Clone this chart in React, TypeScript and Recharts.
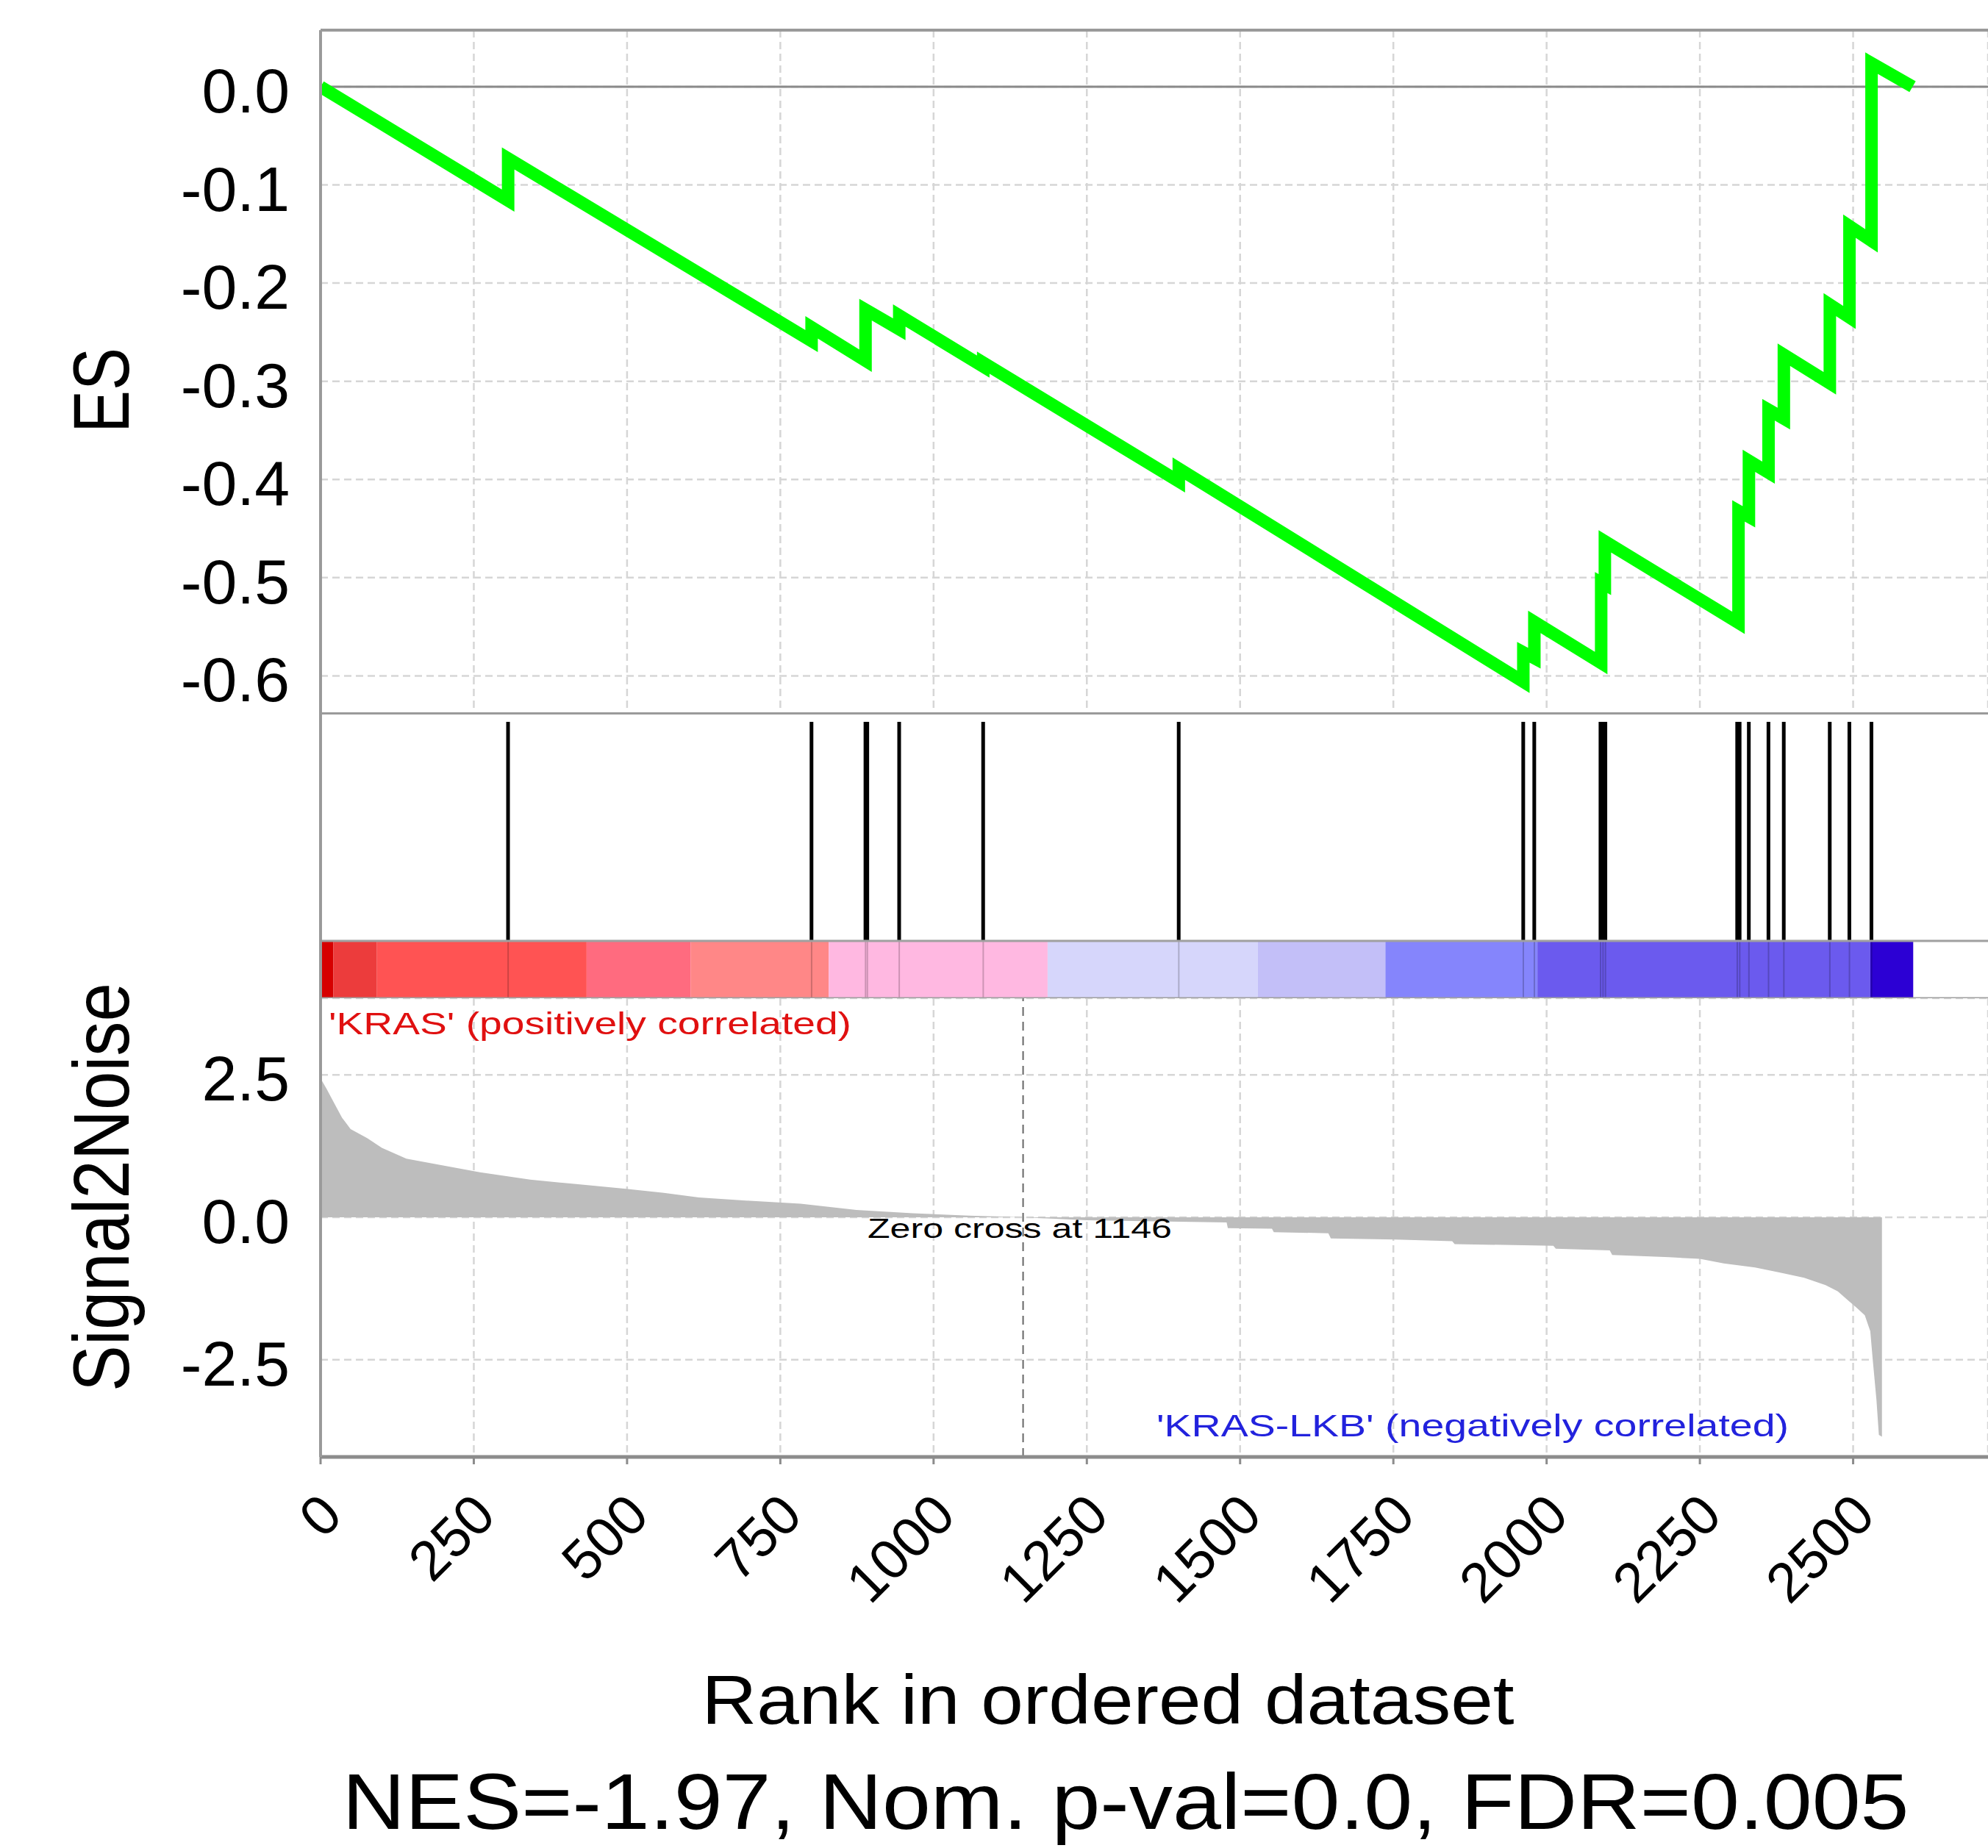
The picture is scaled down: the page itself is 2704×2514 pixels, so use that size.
import React from "react";
import {
  ComposedChart,
  LineChart,
  Line,
  AreaChart,
  Area,
  Bar,
  XAxis,
  YAxis,
  CartesianGrid,
  ReferenceLine,
  ReferenceArea,
} from "recharts";

const FONT = '"Liberation Sans", Arial, Helvetica, sans-serif';

// shared rank axis
const rankMax = 2720;
const rankTicks = [0, 250, 500, 750, 1000, 1250, 1500, 1750, 2000, 2250, 2500];

// running enrichment score (vertical jumps = hits)
const esRanks = [
  0, 306, 306, 801, 801, 889, 889, 944, 944, 1081, 1081, 1400, 1400, 1962, 1962, 1980, 1980,
  2089, 2089, 2095, 2095, 2313, 2313, 2330, 2330, 2362, 2362, 2387, 2387, 2462, 2462, 2494,
  2494, 2530, 2530, 2597,
];
const esValues = [
  0.0, -0.116, -0.073, -0.259, -0.245, -0.279, -0.227, -0.247, -0.233, -0.285, -0.281, -0.402,
  -0.389, -0.606, -0.576, -0.582, -0.545, -0.587, -0.505, -0.507, -0.463, -0.546, -0.432,
  -0.438, -0.381, -0.393, -0.329, -0.338, -0.273, -0.302, -0.222, -0.235, -0.142, -0.157,
  0.024, 0.0,
];
const esTicks = [0, -0.1, -0.2, -0.3, -0.4, -0.5, -0.6];
const esDomain = [-0.6386, 0.0576];

// gene set hits
const hitRanks = [
  306, 801, 889, 892, 944, 1081, 1400, 1962, 1980, 2088, 2092, 2096, 2311, 2315, 2330, 2362,
  2387, 2462, 2494, 2530,
];

// heat band under the hits
const bandStarts = [0, 21, 92, 434, 604, 829, 1186, 1529, 1737, 1985, 2528];
const bandEnds = [21, 92, 434, 604, 829, 1186, 1529, 1737, 1985, 2528, 2598];
const bandColors = [
  "#d60000", "#ec3c3c", "#ff5353", "#ff6b7f", "#ff8787", "#ffb8e1",
  "#d6d6fb", "#c3bff8", "#8585fc", "#6b5aee", "#2c00d4",
];
const bandTop = 0.2016;
const hitTop = 0.9716;

// ranked list metric
const s2nRanks = [
  0, 10, 21, 35, 49, 76, 100, 140, 195, 260, 342, 420, 498, 560, 617, 700, 783, 874, 966, 1058,
  1146, 1250, 1478, 1480, 1552, 1555, 1644, 1648, 1754, 1846, 1850, 2011, 2015, 2103, 2107,
  2200, 2250, 2289, 2340, 2381, 2420, 2455, 2475, 2491, 2505, 2519, 2528, 2532, 2538, 2542,
  2547,
];
const s2nValues = [
  2.44, 2.25, 2.03, 1.75, 1.55, 1.39, 1.22, 1.03, 0.92, 0.79, 0.66, 0.58, 0.5, 0.43, 0.35,
  0.29, 0.24, 0.13, 0.07, 0.03, 0.0, -0.05, -0.09, -0.19, -0.2, -0.26, -0.28, -0.37, -0.39,
  -0.42, -0.47, -0.5, -0.55, -0.58, -0.66, -0.7, -0.73, -0.81, -0.88, -0.97, -1.06, -1.19,
  -1.3, -1.45, -1.58, -1.72, -2.0, -2.5, -3.2, -3.82, -3.85,
];
const s2nTicks = [2.5, 0, -2.5];
const s2nDomain = [-4.206, 3.845];
const zeroCross = 1146;

const esData = esRanks.map((rank, i) => ({ rank, es: esValues[i] }));
const s2nData = s2nRanks.map((rank, i) => ({ rank, s2n: s2nValues[i] }));
const hitData = hitRanks.map((rank) => ({ rank, hit: [bandTop, hitTop] }));

const GRID = "#d6d6d6";
const FRAME = "#9a9a9a";

function YTick(props: any) {
  const { x, y, payload } = props;
  return (
    <text x={x} y={y} dy={35} textAnchor="end" fontSize={86} fontFamily={FONT} fill="#000">
      {Number(payload.value).toFixed(1)}
    </text>
  );
}

function XTick(props: any) {
  const { x, y, payload } = props;
  return (
    <text
      transform={`translate(${x + 33},${y + 73}) rotate(-45)`}
      textAnchor="end"
      fontSize={76}
      fontFamily={FONT}
      fill="#000"
    >
      {payload.value}
    </text>
  );
}

// fixed-width hit stroke centred on the bar's rank position
function HitBar(props: any) {
  const { x, y, width, height } = props;
  return <rect x={x + width / 2 - 2.5} y={y} width={5} height={height} fill="#000" />;
}

export default function App() {
  return (
    <div
      style={{
        position: "absolute",
        left: 0,
        top: 0,
        width: 2704,
        height: 2514,
        overflow: "hidden",
        background: "#fff",
        fontFamily: FONT,
      }}
    >
      {/* ES PANEL */}
      <div style={{ position: "absolute", left: 0, top: 0 }}>
        <LineChart width={2704} height={972} data={esData} margin={{ top: 41, right: 0, bottom: 1, left: 0 }}>
          <CartesianGrid stroke={GRID} strokeWidth={2.5} strokeDasharray="10 6" />
          <XAxis dataKey="rank" type="number" domain={[0, rankMax]} ticks={rankTicks} hide allowDataOverflow />
          <YAxis
            type="number"
            domain={esDomain}
            ticks={esTicks}
            interval={0}
            width={436}
            allowDataOverflow
            axisLine={{ stroke: FRAME, strokeWidth: 4 }}
            tickLine={false}
            tickSize={0}
            tickMargin={42}
            tick={(p: any) => <YTick {...p} />}
          />
          <ReferenceLine y={0} stroke="#8a8a8a" strokeWidth={3} />
          <ReferenceLine y={esDomain[1]} stroke={FRAME} strokeWidth={4} />
          <ReferenceLine y={esDomain[0]} stroke={FRAME} strokeWidth={4} />
          <Line type="linear" dataKey="es" stroke="#00ff00" strokeWidth={17} dot={false} isAnimationActive={false} />
        </LineChart>
      </div>

      {/* HITS + HEAT BAND */}
      <div style={{ position: "absolute", left: 0, top: 971 }}>
        <ComposedChart
          width={2704}
          height={387}
          data={hitData}
          margin={{ top: 0, right: 0, bottom: 0, left: 436 }}
          barGap={0}
          barCategoryGap={0}
        >
          <XAxis dataKey="rank" type="number" domain={[0, rankMax]} hide allowDataOverflow />
          <YAxis type="number" domain={[0, 1]} hide allowDataOverflow />
          {bandStarts.map((s, i) => (
            <ReferenceArea
              key={"b" + i}
              x1={s}
              x2={bandEnds[i]}
              y1={0}
              y2={bandTop}
              fill={bandColors[i]}
              fillOpacity={1}
              stroke="none"
              ifOverflow="visible"
            />
          ))}
          {hitRanks.map((r, i) => (
            <ReferenceLine
              key={"f" + i}
              segment={[{ x: r, y: 0 }, { x: r, y: bandTop }]}
              stroke="rgba(0,0,0,0.2)"
              strokeWidth={2}
              ifOverflow="visible"
            />
          ))}
          <Bar dataKey="hit" fill="#000" barSize={4} shape={(p: any) => <HitBar {...p} />} isAnimationActive={false} />
          <ReferenceLine y={bandTop} stroke="#a0a0a0" strokeWidth={3} ifOverflow="visible" />
          <ReferenceLine y={0} stroke="#a0a0a0" strokeWidth={3} ifOverflow="visible" />
          <ReferenceLine x={0} stroke={FRAME} strokeWidth={4} ifOverflow="visible" />
        </ComposedChart>
      </div>

      {/* SIGNAL2NOISE PANEL */}
      <div style={{ position: "absolute", left: 0, top: 1358 }}>
        <AreaChart width={2704} height={1156} data={s2nData} margin={{ top: 0, right: 0, bottom: 0, left: 0 }}>
          <CartesianGrid stroke={GRID} strokeWidth={2.5} strokeDasharray="10 6" />
          <XAxis
            dataKey="rank"
            type="number"
            domain={[0, rankMax]}
            ticks={rankTicks}
            interval={0}
            height={532}
            allowDataOverflow
            axisLine={{ stroke: "#8c8c8c", strokeWidth: 5 }}
            tickLine={{ stroke: "#8c8c8c", strokeWidth: 3 }}
            tickSize={10}
            tickMargin={0}
            tick={(p: any) => <XTick {...p} />}
          />
          <YAxis
            type="number"
            domain={s2nDomain}
            ticks={s2nTicks}
            interval={0}
            width={436}
            allowDataOverflow
            axisLine={{ stroke: FRAME, strokeWidth: 4 }}
            tickLine={false}
            tickSize={0}
            tickMargin={42}
            tick={(p: any) => <YTick {...p} />}
          />
          <Area
            type="linear"
            dataKey="s2n"
            stroke="none"
            fill="#bdbdbd"
            fillOpacity={1}
            baseValue={0}
            isAnimationActive={false}
          />
          <ReferenceLine x={zeroCross} stroke="#666" strokeWidth={2} strokeDasharray="12 8" />
        </AreaChart>
      </div>

      {/* TITLES AND NOTES */}
      <svg
        width={2704}
        height={2514}
        style={{ position: "absolute", left: 0, top: 0, pointerEvents: "none" }}
        fontFamily={FONT}
      >
        <text x={175} y={531} transform="rotate(-90 175 531)" textAnchor="middle" fontSize={107} textLength={116} lengthAdjust="spacingAndGlyphs">
          ES
        </text>
        <text x={175} y={1615} transform="rotate(-90 175 1615)" textAnchor="middle" fontSize={107} textLength={556} lengthAdjust="spacingAndGlyphs">
          Signal2Noise
        </text>
        <text x={447} y={1407} fontSize={43} fill="#e01010" textLength={711} lengthAdjust="spacingAndGlyphs">
          'KRAS' (positively correlated)
        </text>
        <text x={1180} y={1684} fontSize={36} fill="#000" textLength={414} lengthAdjust="spacingAndGlyphs">
          Zero cross at 1146
        </text>
        <text x={1573} y={1954} fontSize={43} fill="#2222dd" textLength={860} lengthAdjust="spacingAndGlyphs">
          'KRAS-LKB' (negatively correlated)
        </text>
        <text x={1507} y={2345} textAnchor="middle" fontSize={94} textLength={1105} lengthAdjust="spacingAndGlyphs">
          Rank in ordered dataset
        </text>
        <text x={1531} y={2488} textAnchor="middle" fontSize={108} textLength={2131} lengthAdjust="spacingAndGlyphs">
          NES=-1.97, Nom. p-val=0.0, FDR=0.005
        </text>
      </svg>
    </div>
  );
}
